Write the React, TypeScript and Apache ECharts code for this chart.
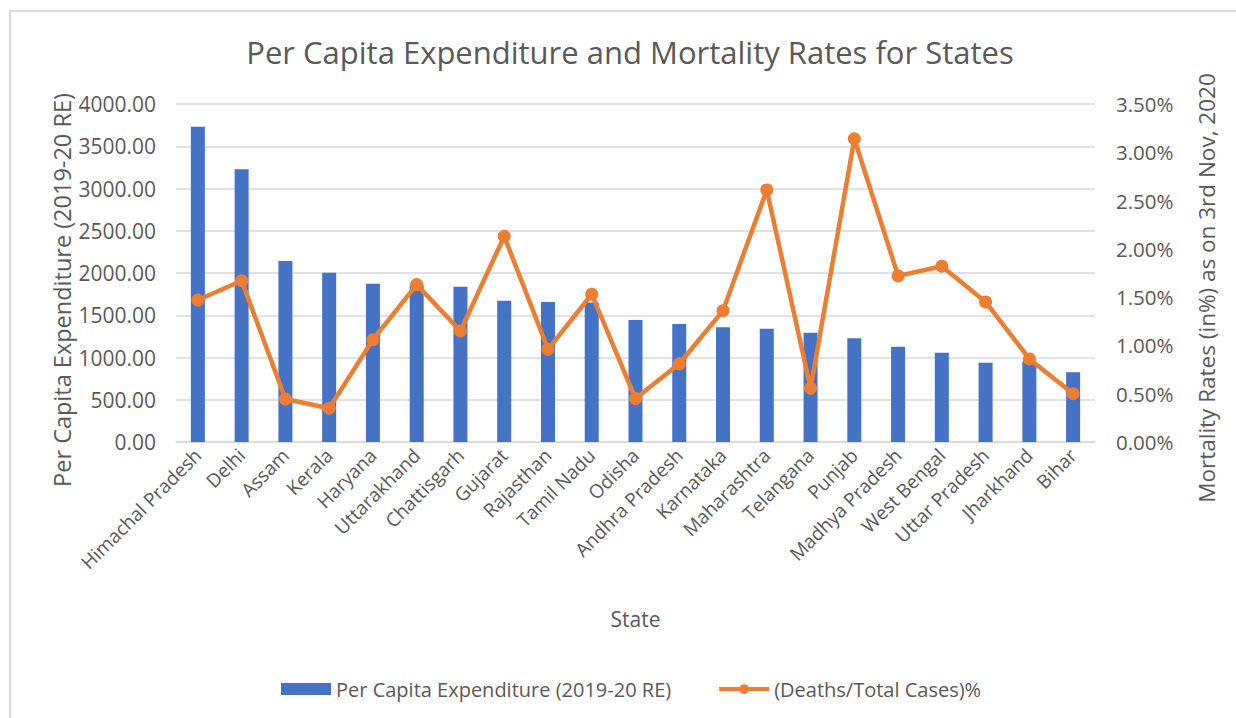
import React, { useEffect, useRef } from "react";
import * as echarts from "echarts";

const states = [
  "Himachal Pradesh", "Delhi", "Assam", "Kerala", "Haryana", "Uttarakhand", "Chattisgarh",
  "Gujarat", "Rajasthan", "Tamil Nadu", "Odisha", "Andhra Pradesh", "Karnataka", "Maharashtra",
  "Telangana", "Punjab", "Madhya Pradesh", "West Bengal", "Uttar Pradesh", "Jharkhand", "Bihar",
];
const expenditure = [
  3730, 3227, 2142, 2004, 1873, 1855, 1838, 1672, 1657, 1650, 1444, 1396, 1357, 1341, 1294,
  1227, 1128, 1057, 938, 955, 825,
];
const mortality = [
  1.47, 1.67, 0.445, 0.35, 1.06, 1.63, 1.15, 2.13, 0.96, 1.53, 0.45, 0.81, 1.36, 2.61, 0.556,
  3.14, 1.72, 1.82, 1.45, 0.86, 0.5,
];
const leftAxisName = "Per Capita Expenditure (2019-20 RE)";
const rightAxisName = "Mortality Rates (in%) as on 3rd Nov, 2020";

const FONT = "'Open Sans', sans-serif";
const TXT = "#595959";

export default function App() {
  const ref = useRef<HTMLDivElement>(null);
  useEffect(() => {
    if (!ref.current) return;
    const chart = echarts.init(ref.current, undefined, { renderer: "svg" });
    chart.setOption({
      animation: false,
      backgroundColor: "#fff",
      textStyle: { fontFamily: FONT, color: TXT },
      title: {
        text: "Per Capita Expenditure and Mortality Rates for States",
        left: 625,
        textAlign: "center",
        top: 31,
        textStyle: { fontFamily: FONT, fontSize: 31, fontWeight: "normal", color: TXT },
      },
      graphic: [
        {
          type: "rect",
          shape: { x: 10, y: 11, width: 1400, height: 900 },
          style: { fill: "none", stroke: "#d9d9d9", lineWidth: 2 },
          silent: true,
        },
        {
          type: "text",
          x: 62,
          y: 290,
          rotation: Math.PI / 2,
          style: {
            text: leftAxisName,
            align: "center",
            verticalAlign: "middle",
            fontFamily: FONT,
            fontSize: 23.5,
            fill: TXT,
          },
          silent: true,
        },
        {
          type: "text",
          x: 1206,
          y: 288,
          rotation: Math.PI / 2,
          style: {
            text: rightAxisName,
            align: "center",
            verticalAlign: "middle",
            fontFamily: FONT,
            fontSize: 22.5,
            fill: TXT,
          },
          silent: true,
        },
      ],
      legend: {
        top: 674,
        left: 276,
        itemGap: 46,
        itemWidth: 50,
        itemHeight: 12,
        textStyle: { fontFamily: FONT, fontSize: 20, color: TXT },
        data: [
          { name: "Per Capita Expenditure (2019-20 RE)", icon: "rect" },
          { name: "(Deaths/Total Cases)%", lineStyle: { width: 4 } },
        ],
      },
      grid: { left: 176, right: 141, top: 104, bottom: 276 },
      xAxis: {
        type: "category",
        data: states,
        name: "State",
        nameLocation: "middle",
        nameGap: 166,
        nameTextStyle: { fontFamily: FONT, fontSize: 21, color: TXT },
        axisLine: { lineStyle: { color: "#d9d9d9", width: 1.5 } },
        axisTick: { show: false },
        axisLabel: { rotate: 45, interval: 0, margin: 10, fontFamily: FONT, fontSize: 19, color: TXT },
      },
      yAxis: [
        {
          type: "value",
          min: 0,
          max: 4000,
          interval: 500,
          axisLabel: {
            margin: 20,
            fontFamily: FONT,
            fontSize: 21,
            color: TXT,
            formatter: (v: number) => v.toFixed(2),
          },
          splitLine: { lineStyle: { color: "#d9d9d9", width: 1.5 } },
          axisLine: { show: false },
          axisTick: { show: false },
        },
        {
          type: "value",
          min: 0,
          max: 3.5,
          interval: 0.5,
          axisLabel: {
            margin: 21,
            fontFamily: FONT,
            fontSize: 20.5,
            color: TXT,
            formatter: (v: number) => v.toFixed(2) + "%",
          },
          splitLine: { show: false },
          axisLine: { show: false },
          axisTick: { show: false },
        },
      ],
      series: [
        {
          name: "Per Capita Expenditure (2019-20 RE)",
          type: "bar",
          data: expenditure,
          barWidth: 14,
          itemStyle: { color: "#4472C4" },
        },
        {
          name: "(Deaths/Total Cases)%",
          type: "line",
          yAxisIndex: 1,
          data: mortality,
          symbol: "circle",
          symbolSize: 13,
          lineStyle: { color: "#ED7D31", width: 4.5 },
          itemStyle: { color: "#ED7D31" },
        },
      ],
    });
    return () => chart.dispose();
  }, []);
  return (
    <div
      ref={ref}
      style={{ position: "absolute", left: 0, top: 0, width: 1236, height: 718 }}
    />
  );
}
